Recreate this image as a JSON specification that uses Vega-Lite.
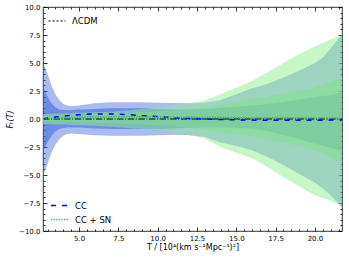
{
  "$schema": "https://vega.github.io/schema/vega-lite/v6.json",
  "width": 299,
  "height": 224,
  "autosize": "none",
  "padding": {"left": 43, "top": 7, "right": 7, "bottom": 27},
  "background": "white",
  "config": {
    "view": {"stroke": "black", "strokeWidth": 0.8},
    "font": "DejaVu Sans",
    "axis": {"domain": false, "grid": false, "tickColor": "black", "tickWidth": 0.8, "labelColor": "black", "labelFont": "DejaVu Sans", "labelFontSize": 7, "titleFont": "DejaVu Sans", "titleColor": "black", "titleFontWeight": "normal", "titleFontSize": 8},
    "legend": {"labelFont": "DejaVu Sans", "labelFontSize": 8.5, "labelColor": "black", "padding": 0, "symbolSize": 289, "labelOffset": 6, "rowPadding": -5, "symbolStrokeWidth": 1.5}
  },
  "datasets": {
    "bands": [
      {"T": 2.71, "b2lo": -5.1, "b2hi": 5.1, "b1lo": -2.9, "b1hi": 2.9, "g2lo": -0.45, "g2hi": 0.45, "g1lo": -0.25, "g1hi": 0.25},
      {"T": 3.0, "b2lo": -4.0, "b2hi": 4.0, "b1lo": -2.1, "b1hi": 2.0, "g2lo": -0.45, "g2hi": 0.45, "g1lo": -0.25, "g1hi": 0.26},
      {"T": 3.25, "b2lo": -3.0, "b2hi": 3.0, "b1lo": -1.5, "b1hi": 1.4, "g2lo": -0.47, "g2hi": 0.47, "g1lo": -0.25, "g1hi": 0.27},
      {"T": 3.5, "b2lo": -2.3, "b2hi": 2.2, "b1lo": -1.1, "b1hi": 1.05, "g2lo": -0.5, "g2hi": 0.5, "g1lo": -0.25, "g1hi": 0.28},
      {"T": 3.75, "b2lo": -1.8, "b2hi": 1.7, "b1lo": -0.9, "b1hi": 0.85, "g2lo": -0.5, "g2hi": 0.5, "g1lo": -0.25, "g1hi": 0.29},
      {"T": 4.0, "b2lo": -1.5, "b2hi": 1.35, "b1lo": -0.8, "b1hi": 0.8, "g2lo": -0.5, "g2hi": 0.5, "g1lo": -0.25, "g1hi": 0.3},
      {"T": 4.25, "b2lo": -1.35, "b2hi": 1.2, "b1lo": -0.76, "b1hi": 0.78, "g2lo": -0.52, "g2hi": 0.52, "g1lo": -0.27, "g1hi": 0.32},
      {"T": 4.5, "b2lo": -1.3, "b2hi": 1.15, "b1lo": -0.75, "b1hi": 0.8, "g2lo": -0.53, "g2hi": 0.53, "g1lo": -0.28, "g1hi": 0.34},
      {"T": 5.0, "b2lo": -1.35, "b2hi": 1.2, "b1lo": -0.75, "b1hi": 0.85, "g2lo": -0.55, "g2hi": 0.55, "g1lo": -0.3, "g1hi": 0.38},
      {"T": 6.0, "b2lo": -1.45, "b2hi": 1.4, "b1lo": -0.85, "b1hi": 0.9, "g2lo": -0.6, "g2hi": 0.6, "g1lo": -0.33, "g1hi": 0.45},
      {"T": 7.0, "b2lo": -1.5, "b2hi": 1.5, "b1lo": -0.9, "b1hi": 0.95, "g2lo": -0.7, "g2hi": 0.65, "g1lo": -0.38, "g1hi": 0.5},
      {"T": 8.0, "b2lo": -1.5, "b2hi": 1.5, "b1lo": -0.9, "b1hi": 0.95, "g2lo": -0.8, "g2hi": 0.75, "g1lo": -0.42, "g1hi": 0.55},
      {"T": 9.0, "b2lo": -1.5, "b2hi": 1.5, "b1lo": -0.9, "b1hi": 0.95, "g2lo": -0.9, "g2hi": 0.9, "g1lo": -0.5, "g1hi": 0.6},
      {"T": 10.0, "b2lo": -1.45, "b2hi": 1.45, "b1lo": -0.9, "b1hi": 0.9, "g2lo": -1.0, "g2hi": 1.0, "g1lo": -0.58, "g1hi": 0.68},
      {"T": 11.0, "b2lo": -1.4, "b2hi": 1.42, "b1lo": -0.85, "b1hi": 0.85, "g2lo": -1.2, "g2hi": 1.2, "g1lo": -0.68, "g1hi": 0.78},
      {"T": 12.0, "b2lo": -1.45, "b2hi": 1.4, "b1lo": -0.8, "b1hi": 0.85, "g2lo": -1.4, "g2hi": 1.4, "g1lo": -0.8, "g1hi": 0.9},
      {"T": 13.0, "b2lo": -1.6, "b2hi": 1.45, "b1lo": -0.75, "b1hi": 0.9, "g2lo": -1.75, "g2hi": 1.65, "g1lo": -0.95, "g1hi": 1.05},
      {"T": 14.0, "b2lo": -2.1, "b2hi": 1.7, "b1lo": -0.75, "b1hi": 1.0, "g2lo": -2.5, "g2hi": 2.2, "g1lo": -1.2, "g1hi": 1.25},
      {"T": 15.0, "b2lo": -2.4, "b2hi": 2.2, "b1lo": -0.78, "b1hi": 1.1, "g2lo": -3.0, "g2hi": 2.8, "g1lo": -1.35, "g1hi": 1.5},
      {"T": 16.0, "b2lo": -2.8, "b2hi": 2.75, "b1lo": -0.85, "b1hi": 1.2, "g2lo": -3.5, "g2hi": 3.4, "g1lo": -1.55, "g1hi": 1.8},
      {"T": 17.0, "b2lo": -3.4, "b2hi": 3.15, "b1lo": -1.1, "b1hi": 1.35, "g2lo": -4.3, "g2hi": 4.2, "g1lo": -1.8, "g1hi": 2.0},
      {"T": 18.0, "b2lo": -4.1, "b2hi": 3.7, "b1lo": -1.45, "b1hi": 1.55, "g2lo": -5.2, "g2hi": 5.0, "g1lo": -2.1, "g1hi": 2.2},
      {"T": 19.0, "b2lo": -4.9, "b2hi": 4.3, "b1lo": -1.8, "b1hi": 1.75, "g2lo": -6.0, "g2hi": 5.8, "g1lo": -2.4, "g1hi": 2.5},
      {"T": 20.0, "b2lo": -5.7, "b2hi": 5.0, "b1lo": -2.2, "b1hi": 1.95, "g2lo": -6.8, "g2hi": 6.5, "g1lo": -2.8, "g1hi": 2.8},
      {"T": 20.5, "b2lo": -6.2, "b2hi": 5.5, "b1lo": -2.4, "b1hi": 2.05, "g2lo": -7.05, "g2hi": 6.8, "g1lo": -3.1, "g1hi": 3.05},
      {"T": 21.0, "b2lo": -6.8, "b2hi": 6.3, "b1lo": -2.6, "b1hi": 2.15, "g2lo": -7.3, "g2hi": 7.1, "g1lo": -3.4, "g1hi": 3.3},
      {"T": 21.4, "b2lo": -7.4, "b2hi": 7.0, "b1lo": -2.75, "b1hi": 2.25, "g2lo": -7.55, "g2hi": 7.35, "g1lo": -3.7, "g1hi": 3.55},
      {"T": 21.72, "b2lo": -7.9, "b2hi": 7.5, "b1lo": -2.9, "b1hi": 2.35, "g2lo": -7.7, "g2hi": 7.5, "g1lo": -3.9, "g1hi": 3.7}
    ],
    "lines": [
      {"T": 2.71, "v": 0.0, "model": "CC"}, {"T": 3.0, "v": 0.08, "model": "CC"}, {"T": 3.5, "v": 0.18, "model": "CC"},
      {"T": 4.0, "v": 0.25, "model": "CC"}, {"T": 4.5, "v": 0.32, "model": "CC"}, {"T": 5.0, "v": 0.38, "model": "CC"},
      {"T": 6.0, "v": 0.45, "model": "CC"}, {"T": 7.0, "v": 0.45, "model": "CC"}, {"T": 8.0, "v": 0.4, "model": "CC"},
      {"T": 9.0, "v": 0.3, "model": "CC"}, {"T": 10.0, "v": 0.22, "model": "CC"}, {"T": 11.0, "v": 0.12, "model": "CC"},
      {"T": 12.0, "v": 0.05, "model": "CC"}, {"T": 13.0, "v": 0.0, "model": "CC"}, {"T": 14.0, "v": -0.05, "model": "CC"},
      {"T": 15.0, "v": -0.08, "model": "CC"}, {"T": 16.0, "v": -0.1, "model": "CC"}, {"T": 17.0, "v": -0.12, "model": "CC"},
      {"T": 18.0, "v": -0.12, "model": "CC"}, {"T": 19.0, "v": -0.12, "model": "CC"}, {"T": 20.0, "v": -0.12, "model": "CC"},
      {"T": 21.0, "v": -0.1, "model": "CC"}, {"T": 21.72, "v": -0.1, "model": "CC"},
      {"T": 2.71, "v": 0.0, "model": "CC + SN"}, {"T": 3.0, "v": 0.03, "model": "CC + SN"}, {"T": 3.5, "v": 0.06, "model": "CC + SN"},
      {"T": 4.0, "v": 0.1, "model": "CC + SN"}, {"T": 5.0, "v": 0.15, "model": "CC + SN"}, {"T": 6.0, "v": 0.2, "model": "CC + SN"},
      {"T": 7.0, "v": 0.2, "model": "CC + SN"}, {"T": 8.0, "v": 0.2, "model": "CC + SN"}, {"T": 9.0, "v": 0.2, "model": "CC + SN"},
      {"T": 10.0, "v": 0.18, "model": "CC + SN"}, {"T": 11.0, "v": 0.17, "model": "CC + SN"}, {"T": 12.0, "v": 0.15, "model": "CC + SN"},
      {"T": 13.0, "v": 0.14, "model": "CC + SN"}, {"T": 14.0, "v": 0.13, "model": "CC + SN"}, {"T": 15.0, "v": 0.12, "model": "CC + SN"},
      {"T": 16.0, "v": 0.12, "model": "CC + SN"}, {"T": 17.0, "v": 0.12, "model": "CC + SN"}, {"T": 18.0, "v": 0.12, "model": "CC + SN"},
      {"T": 19.0, "v": 0.11, "model": "CC + SN"}, {"T": 20.0, "v": 0.1, "model": "CC + SN"}, {"T": 21.0, "v": 0.1, "model": "CC + SN"},
      {"T": 21.72, "v": 0.1, "model": "CC + SN"}
    ],
    "lcdm": [
      {"T": 2.71, "v": 0, "model": "ΛCDM"},
      {"T": 21.72, "v": 0, "model": "ΛCDM"}
    ]
  },
  "resolve": {
    "axis": {"x": "independent", "y": "independent"}
  },
  "layer": [
    {
      "data": {"name": "bands"},
      "mark": {"type": "area", "color": "#4169e1", "opacity": 0.45},
      "encoding": {
        "x": {"field": "T", "type": "quantitative", "scale": {"domain": [2.71, 21.72], "nice": false, "zero": false},
              "axis": {"orient": "bottom", "values": [5, 7.5, 10, 12.5, 15, 17.5, 20], "format": ".1f", "tickSize": -4, "labelPadding": 7, "title": "T / [10⁴(km s⁻¹Mpc⁻¹)²]", "titlePadding": 2}},
        "y": {"field": "b2lo", "type": "quantitative", "scale": {"domain": [-10, 10], "nice": false, "zero": false},
              "axis": {"orient": "left", "values": [-10, -7.5, -5, -2.5, 0, 2.5, 5, 7.5, 10], "format": ".1f", "tickSize": -4, "labelPadding": 7, "title": "Fₜ(T)", "titleFontStyle": "italic", "titlePadding": 4}},
        "y2": {"field": "b2hi"}
      }
    },
    {
      "data": {"name": "bands"},
      "mark": {"type": "area", "color": "#2f5fdc", "opacity": 0.5},
      "encoding": {
        "x": {"field": "T", "type": "quantitative",
              "axis": {"orient": "bottom", "values": [3, 3.5, 4, 4.5, 5.5, 6, 6.5, 7, 8, 8.5, 9, 9.5, 10.5, 11, 11.5, 12, 13, 13.5, 14, 14.5, 15.5, 16, 16.5, 17, 18, 18.5, 19, 19.5, 20.5, 21, 21.5], "tickSize": -2, "labels": false, "title": null}},
        "y": {"field": "b1lo", "type": "quantitative",
              "axis": {"orient": "left", "values": [-9.5, -9, -8.5, -8, -7, -6.5, -6, -5.5, -4.5, -4, -3.5, -3, -2, -1.5, -1, -0.5, 0.5, 1, 1.5, 2, 3, 3.5, 4, 4.5, 5.5, 6, 6.5, 7, 8, 8.5, 9, 9.5], "tickSize": -2, "labels": false, "title": null}},
        "y2": {"field": "b1hi"}
      }
    },
    {
      "data": {"name": "bands"},
      "mark": {"type": "area", "color": "#90ee90", "opacity": 0.5},
      "encoding": {
        "x": {"field": "T", "type": "quantitative",
              "axis": {"orient": "top", "values": [5, 7.5, 10, 12.5, 15, 17.5, 20], "tickSize": -4, "labels": false, "title": null}},
        "y": {"field": "g2lo", "type": "quantitative",
              "axis": {"orient": "right", "values": [-10, -7.5, -5, -2.5, 0, 2.5, 5, 7.5, 10], "tickSize": -4, "labels": false, "title": null}},
        "y2": {"field": "g2hi"}
      }
    },
    {
      "data": {"name": "bands"},
      "mark": {"type": "area", "color": "#7ee08a", "opacity": 0.5},
      "encoding": {
        "x": {"field": "T", "type": "quantitative",
              "axis": {"orient": "top", "values": [3, 3.5, 4, 4.5, 5.5, 6, 6.5, 7, 8, 8.5, 9, 9.5, 10.5, 11, 11.5, 12, 13, 13.5, 14, 14.5, 15.5, 16, 16.5, 17, 18, 18.5, 19, 19.5, 20.5, 21, 21.5], "tickSize": -2, "labels": false, "title": null}},
        "y": {"field": "g1lo", "type": "quantitative",
              "axis": {"orient": "right", "values": [-9.5, -9, -8.5, -8, -7, -6.5, -6, -5.5, -4.5, -4, -3.5, -3, -2, -1.5, -1, -0.5, 0.5, 1, 1.5, 2, 3, 3.5, 4, 4.5, 5.5, 6, 6.5, 7, 8, 8.5, 9, 9.5], "tickSize": -2, "labels": false, "title": null}},
        "y2": {"field": "g1hi"}
      }
    },
    {
      "data": {"name": "lcdm"},
      "mark": {"type": "line", "color": "black", "strokeWidth": 1, "strokeDash": [6.4, 1.6, 1, 1.6]},
      "encoding": {
        "x": {"field": "T", "type": "quantitative", "axis": null},
        "y": {"field": "v", "type": "quantitative", "axis": null},
        "opacity": {"field": "model", "type": "ordinal", "scale": {"domain": ["ΛCDM"], "range": [1, 1]},
                    "legend": {"orient": "top-left", "title": null, "offset": 5, "symbolType": "stroke", "symbolStrokeColor": "black", "symbolStrokeWidth": 1, "symbolDash": [2, 2]}}
      }
    },
    {
      "data": {"name": "lines"},
      "mark": {"type": "line", "strokeWidth": 1.5},
      "encoding": {
        "x": {"field": "T", "type": "quantitative", "axis": null},
        "y": {"field": "v", "type": "quantitative", "axis": null},
        "color": {"field": "model", "type": "nominal", "scale": {"domain": ["CC", "CC + SN"], "range": ["#0000ff", "#3cb44b"]},
                  "legend": {"orient": "bottom-left", "title": null, "offset": 7}},
        "strokeDash": {"field": "model", "type": "nominal", "scale": {"domain": ["CC", "CC + SN"], "range": [[5, 6], [1.3, 1.3]]},
                       "legend": {"orient": "bottom-left", "title": null, "offset": 7}}
      }
    }
  ]
}
